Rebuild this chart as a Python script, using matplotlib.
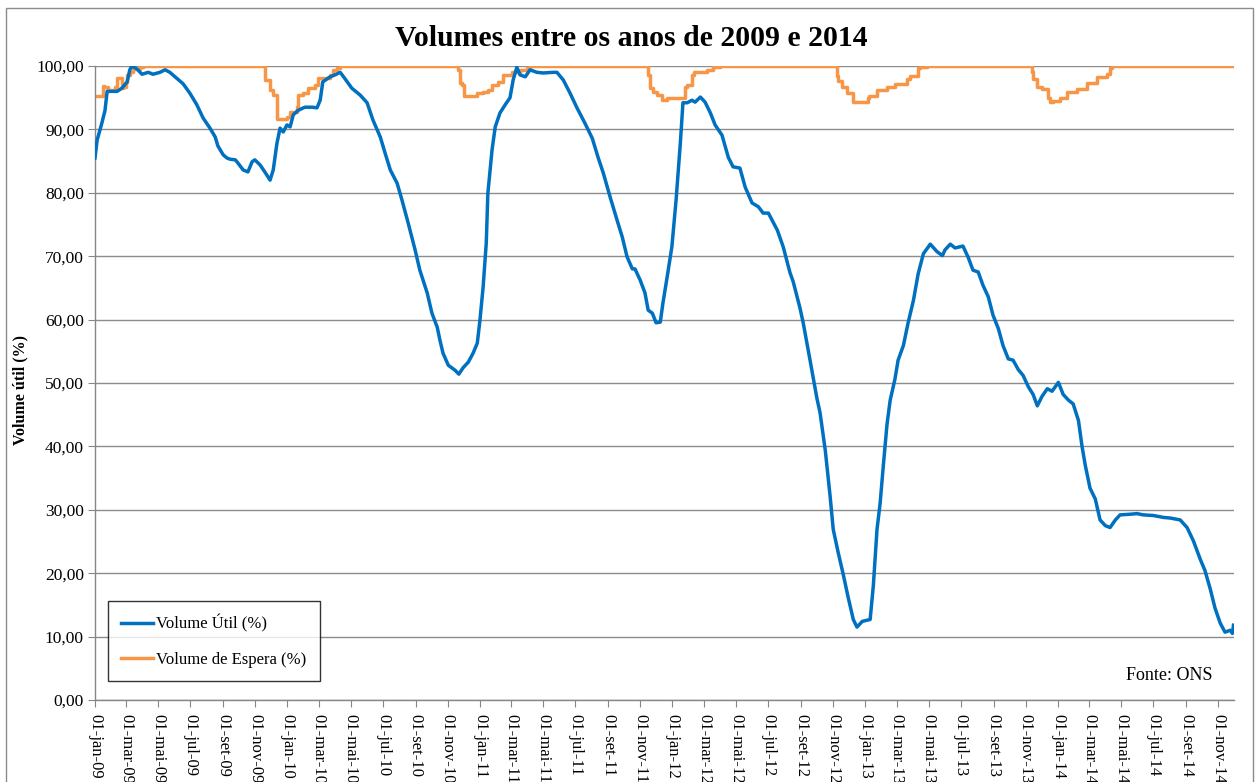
import matplotlib
matplotlib.use("Agg")
from matplotlib import pyplot as plt
import matplotlib.patches as patches
import matplotlib.ticker as ticker
import numpy as np
import pandas as pd

plt.rcParams['font.family'] = ['Liberation Serif', 'DejaVu Serif']

# dias contados a partir de 01-jan-2009
dias_util = [0, 4, 13, 19, 23, 42, 51, 61, 66, 70, 80, 89, 101, 110, 123, 133, 142, 156, 167, 180,
             193, 205, 218, 228, 233, 243, 250, 256, 266, 271, 281, 290, 298, 303, 313, 322, 332, 338, 345, 351,
             357, 364, 370, 376, 385, 398, 412, 421, 427, 432, 446, 455, 465, 474, 487, 503, 516, 527, 541, 550,
             560, 573, 582, 594, 607, 616, 630, 639, 649, 654, 660, 670, 683, 690, 698, 708, 717, 725, 730, 736,
             742, 745, 753, 759, 768, 778, 787, 793, 800, 806, 816, 825, 838, 850, 869, 876, 888, 901, 914, 929,
             943, 954, 964, 977, 990, 1000, 1009, 1019, 1024, 1034, 1043, 1049, 1057, 1064, 1072, 1077, 1085, 1094, 1102, 1110,
             1115, 1123, 1132, 1138, 1148, 1157, 1167, 1176, 1189, 1201, 1210, 1223, 1233, 1246, 1258, 1267, 1277, 1294, 1305, 1318,
             1324, 1337, 1343, 1356, 1369, 1375, 1385, 1394, 1400, 1409, 1419, 1428, 1438, 1445, 1455, 1470, 1476, 1483, 1489, 1495,
             1502, 1508, 1517, 1523, 1533, 1542, 1552, 1561, 1571, 1584, 1597, 1607, 1612, 1622, 1631, 1646, 1656, 1665, 1675, 1684,
             1694, 1703, 1713, 1722, 1732, 1741, 1751, 1760, 1770, 1779, 1787, 1796, 1806, 1815, 1827, 1836, 1846, 1855, 1865, 1872,
             1878, 1887, 1897, 1906, 1916, 1925, 1935, 1944, 1963, 1976, 1988, 2007, 2026, 2039, 2058, 2071, 2083, 2096, 2105, 2115,
             2124, 2134, 2143, 2153, 2157, 2159]
volume_util = [85.5, 88.3, 91.0, 93.0, 96.0, 96.0, 96.5, 97.5, 99.4, 100.0, 99.5, 98.7, 99.0, 98.7, 99.0, 99.4, 99.0, 98.0, 97.2, 95.7,
               93.9, 91.8, 90.2, 88.8, 87.4, 86.0, 85.5, 85.3, 85.2, 84.7, 83.6, 83.3, 84.9, 85.2, 84.4, 83.3, 82.0, 83.6, 87.8, 90.2,
               89.6, 90.7, 90.4, 92.3, 93.0, 93.5, 93.5, 93.4, 94.6, 97.5, 98.3, 98.6, 99.0, 98.0, 96.5, 95.4, 94.2, 91.5, 88.8, 86.3,
               83.6, 81.5, 78.9, 75.2, 71.0, 67.8, 64.2, 61.0, 58.8, 56.8, 54.7, 52.8, 52.0, 51.4, 52.4, 53.3, 54.7, 56.3, 59.9, 65.1,
               72.1, 79.9, 86.8, 90.4, 92.6, 93.9, 95.0, 97.8, 99.8, 98.6, 98.3, 99.4, 99.0, 98.9, 99.0, 99.0, 97.8, 95.7, 93.4, 91.0,
               88.6, 85.6, 83.1, 79.3, 75.7, 73.0, 69.9, 68.0, 68.0, 66.2, 64.2, 61.5, 61.0, 59.5, 59.6, 62.6, 66.7, 71.5, 78.9, 87.8,
               94.2, 94.2, 94.6, 94.3, 95.1, 94.3, 92.6, 90.7, 89.1, 85.6, 84.1, 83.9, 80.9, 78.4, 77.8, 76.8, 76.8, 74.1, 71.5, 67.4,
               66.0, 61.8, 59.5, 53.6, 47.6, 45.3, 39.3, 32.2, 26.9, 23.4, 19.8, 16.3, 12.7, 11.5, 12.4, 12.7, 18.0, 26.9, 31.1, 37.0,
               43.5, 47.3, 50.6, 53.6, 55.9, 59.5, 63.0, 67.2, 70.4, 71.9, 70.7, 70.1, 71.0, 71.9, 71.3, 71.6, 69.8, 67.8, 67.5, 65.4,
               63.6, 60.7, 58.6, 55.9, 53.8, 53.6, 52.1, 51.2, 49.4, 48.2, 46.4, 47.9, 49.1, 48.7, 50.1, 48.2, 47.3, 46.7, 44.1, 39.9,
               37.0, 33.4, 31.7, 28.4, 27.5, 27.2, 28.4, 29.2, 29.3, 29.4, 29.2, 29.1, 28.8, 28.7, 28.4, 27.2, 25.1, 22.2, 20.4, 17.5,
               14.5, 12.1, 10.7, 11.0, 10.5, 11.8]

dias_espera = [0, 15, 17, 25, 28, 38, 42, 44, 51, 53, 59, 61, 66, 72, 85, 91, 99,
               322, 328, 332, 338, 345, 357, 364, 370, 383, 385, 395, 404, 417, 423, 446, 451, 459, 465,
               689, 692, 696, 700, 711, 725, 736, 745, 753, 764, 774, 791, 806, 819, 825,
               1049, 1053, 1058, 1066, 1075, 1085, 1094, 1119, 1123, 1132, 1136, 1148, 1161, 1172, 1185, 1195,
               1407, 1409, 1417, 1426, 1438, 1445, 1465, 1467, 1483, 1502, 1517, 1540, 1546, 1561, 1565, 1578, 1584,
               1777, 1779, 1787, 1796, 1808, 1811, 1817, 1830, 1844, 1863, 1882, 1901, 1920, 1925, 1929, 1939, 2159]
volume_espera = [95.2, 96.8, 96.7, 96.2, 96.2, 96.7, 98.1, 98.1, 96.5, 96.7, 97.5, 98.6, 99.0, 99.5, 99.9, 100.0, 100.0,
                 97.8, 97.8, 96.2, 95.5, 91.7, 91.7, 92.0, 92.8, 93.5, 95.4, 95.7, 96.5, 97.0, 98.1, 98.6, 99.4, 99.7, 100.0,
                 99.4, 97.3, 97.0, 95.2, 95.2, 95.7, 95.9, 96.2, 97.0, 97.5, 98.6, 99.1, 99.4, 99.7, 100.0,
                 98.6, 96.5, 95.9, 95.4, 94.6, 94.9, 94.9, 96.7, 97.0, 98.6, 99.0, 99.0, 99.4, 99.9, 100.0, 100.0,
                 98.5, 97.6, 96.7, 95.8, 94.4, 94.4, 95.0, 95.3, 96.2, 96.7, 97.2, 97.9, 98.4, 99.7, 99.8, 100.0, 100.0,
                 99.1, 97.9, 96.7, 96.4, 95.0, 94.4, 94.5, 95.0, 95.9, 96.4, 97.3, 98.2, 98.8, 99.7, 100.0, 100.0, 100.0]

meses = ['jan', 'fev', 'mar', 'abr', 'mai', 'jun', 'jul', 'ago', 'set', 'out', 'nov', 'dez']

inicio = pd.Timestamp('2009-01-01')
x_util = inicio + pd.to_timedelta(dias_util, unit='D')
x_espera = inicio + pd.to_timedelta(dias_espera, unit='D')

tick_dates = pd.date_range('2009-01-01', '2014-11-01', freq='2MS')
tick_labels = ['01-%s-%02d' % (meses[d.month - 1], d.year % 100) for d in tick_dates]

fig = plt.figure(figsize=(12.57, 7.82), dpi=100)
ax = fig.add_axes([95 / 1257, 82 / 782, (1234 - 95) / 1257, (700 - 66) / 782])

# Borda do grafico
fig.patches.append(patches.Rectangle((6 / 1257, -0.05), (1253 - 6) / 1257, 0.05 + (782 - 8) / 782,
                                     transform=fig.transFigure, fill=False, edgecolor='#8c8c8c', linewidth=1))

ax.plot(x_util, volume_util, color='#0070C0', linewidth=2.5, label='Volume Útil (%)', zorder=3)
ax.plot(x_espera, volume_espera, color='#F79646', linewidth=2.5, drawstyle='steps-post',
        label='Volume de Espera (%)', zorder=2)

ax.set_ylim(0, 100)
ax.set_xlim(inicio, pd.Timestamp('2014-12-01'))
ax.set_yticks(np.arange(0, 101, 10))
ax.yaxis.set_major_formatter(ticker.FuncFormatter(lambda v, p: ('%.2f' % v).replace('.', ',')))
ax.set_xticks(tick_dates)
ax.set_xticklabels(tick_labels, rotation=270, fontsize=12)
for lab in ax.get_xticklabels():
    lab.set_verticalalignment('top')
    lab.set_horizontalalignment('center')
ax.tick_params(axis='y', labelsize=12.5, length=5, color='#868686', pad=3)
ax.tick_params(axis='x', length=5, color='#868686', pad=5)

ax.grid(axis='y', color='#8c8c8c', linewidth=1)
ax.set_axisbelow(True)
for s in ['top', 'right']:
    ax.spines[s].set_visible(False)
for s in ['left', 'bottom']:
    ax.spines[s].set_color('#868686')
    ax.spines[s].set_linewidth(1)

fig.text(631 / 1257, 1 - 38 / 782, 'Volumes entre os anos de 2009 e 2014', ha='center', va='center',
         fontsize=21.4, fontweight='bold')
fig.text(20 / 1257, 1 - 390 / 782, 'Volume útil (%)', rotation=90, ha='center', va='center',
         fontsize=11.5, fontweight='bold')
fig.text(1212 / 1257, 1 - 675 / 782, 'Fonte: ONS', ha='right', va='center', fontsize=13)

leg = ax.legend(loc='lower left', bbox_to_anchor=(108 / 1257, 101 / 782), bbox_transform=fig.transFigure,
                fontsize=12, frameon=True, fancybox=False, edgecolor='black', handlelength=1.9,
                labelspacing=1.15, borderpad=0.8, handletextpad=0.2, borderaxespad=0)
leg.get_frame().set_linewidth(1)

fig.savefig('out.png', dpi=100)
